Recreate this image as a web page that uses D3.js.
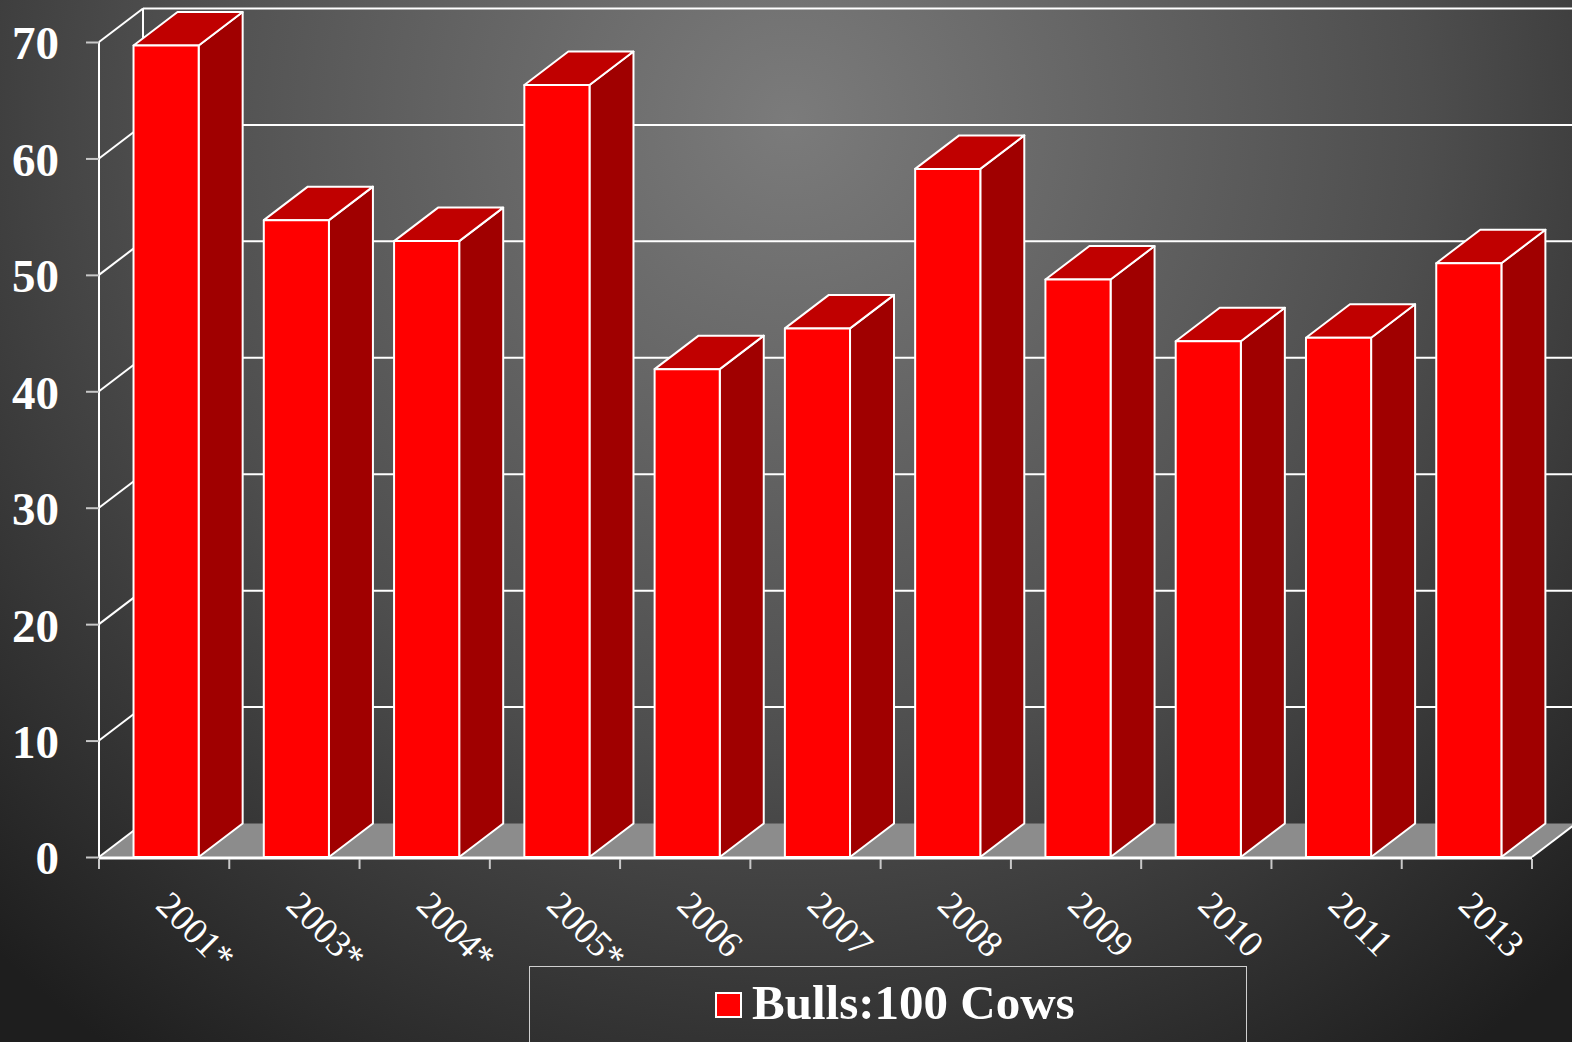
<!DOCTYPE html>
<html>
<head>
<meta charset="utf-8">
<script src="https://cdn.jsdelivr.net/npm/d3@7"></script>
<style>
html,body{margin:0;padding:0;background:#333;}
svg{display:block;}
</style>
</head>
<body>
<svg id="chart" width="1572" height="1042"></svg>
<script>
const categories = ["2001*","2003*","2004*","2005*","2006","2007","2008","2009","2010","2011","2013"];
const bullsPer100Cows = [69.7, 54.7, 52.9, 66.3, 41.9, 45.4, 59.1, 49.6, 44.3, 44.6, 51.0];
const yTicks = [0, 10, 20, 30, 40, 50, 60, 70];
const seriesName = "Bulls:100 Cows";

const W = 1572, H = 1042;
const svg = d3.select("#chart");
const defs = svg.append("defs");
const grad = defs.append("radialGradient").attr("id","bg")
  .attr("gradientUnits","userSpaceOnUse")
  .attr("cx",790).attr("cy",120).attr("r",1150);
grad.append("stop").attr("offset",0).attr("stop-color","#7b7b7b");
grad.append("stop").attr("offset",0.55).attr("stop-color","#4e4e4e");
grad.append("stop").attr("offset",1).attr("stop-color","#1e1e1e");
svg.append("rect").attr("width",W).attr("height",H).attr("fill","url(#bg)");

const x = d3.scaleBand().domain(categories).range([99, 1532]);
const y = d3.scaleLinear().domain([0, 70]).range([857, 42]);
const dx = 44, dy = -33.5;
const x0 = x.range()[0], x1 = x.range()[1];

// floor
svg.append("path")
  .attr("d", `M${x0},${y(0)}L${x1},${y(0)}L${x1+dx},${y(0)+dy}L${x0+dx},${y(0)+dy}Z`)
  .attr("fill","#8c8c8c");

// back wall gridlines
const grid = svg.append("g").attr("stroke","#ffffff").attr("stroke-width",2).attr("fill","none");
yTicks.filter(v => v > 0).forEach(v => {
  grid.append("line").attr("x1",x0+dx).attr("x2",W+10).attr("y1",y(v)+dy).attr("y2",y(v)+dy);
});
// left wall diagonals
yTicks.forEach(v => {
  grid.append("line").attr("x1",x0).attr("y1",y(v)).attr("x2",x0+dx).attr("y2",y(v)+dy);
});
// back wall left edge
grid.append("line").attr("x1",x0+dx).attr("x2",x0+dx).attr("y1",y(70)+dy).attr("y2",y(0)+dy);
// left wall front edge
grid.append("line").attr("x1",x0).attr("x2",x0).attr("y1",y(70)).attr("y2",y(0));
// floor right edge
grid.append("line").attr("x1",x1).attr("y1",y(0)).attr("x2",x1+dx).attr("y2",y(0)+dy);

// y axis
const yAxis = d3.axisLeft(y).tickValues(yTicks).tickSize(13).tickPadding(27).tickFormat(d3.format("d"));
const ya = svg.append("g").attr("transform",`translate(${x0},0)`).call(yAxis);
ya.select(".domain").remove();
ya.selectAll(".tick line").attr("stroke","#c8c8c8").attr("stroke-width",2);
ya.selectAll(".tick text")
  .attr("fill","#ffffff").attr("font-family","'Liberation Serif','Times New Roman',serif")
  .attr("font-weight","bold").attr("font-size",47).attr("dy","0.36em");

// bars
const bw = x.bandwidth() * 0.5;
const bo = x.bandwidth() * 0.265;
const bars = svg.append("g").attr("stroke","#ffffff").attr("stroke-width",2).attr("stroke-linejoin","round");
categories.forEach((c, i) => {
  const v = bullsPer100Cows[i];
  const L = x(c) + bo, R = L + bw, T = y(v), B = y(0);
  const g = bars.append("g");
  g.append("path").attr("d",`M${R},${T}L${R+dx},${T+dy}L${R+dx},${B+dy}L${R},${B}Z`).attr("fill","#a00000");
  g.append("path").attr("d",`M${L},${T}L${R},${T}L${R+dx},${T+dy}L${L+dx},${T+dy}Z`).attr("fill","#c00000");
  g.append("rect").attr("x",L).attr("y",T).attr("width",bw).attr("height",B-T).attr("fill","#ff0000");
});

// front axis line
svg.append("line").attr("x1",x0).attr("x2",x1).attr("y1",y(0)+1).attr("y2",y(0)+1)
  .attr("stroke","#ffffff").attr("stroke-width",3);

// x ticks at band boundaries
const bounds = categories.map(c => x(c)).concat([x1]);
svg.append("g").selectAll("line").data(bounds).join("line")
  .attr("x1",d=>d).attr("x2",d=>d).attr("y1",y(0)+2).attr("y2",y(0)+12)
  .attr("stroke","#c8c8c8").attr("stroke-width",2);

// x labels
const xAxis = d3.axisBottom(x).tickSize(0).tickPadding(0);
const xa = svg.append("g").attr("transform",`translate(0,${y(0)})`).call(xAxis);
xa.select(".domain").remove();
xa.selectAll(".tick text")
  .attr("y",0).attr("dy",0)
  .attr("text-anchor","start")
  .attr("transform","translate(-10,50) rotate(45)")
  .attr("fill","#ffffff").attr("font-family","'Liberation Serif','Times New Roman',serif")
  .attr("font-size",37);

// legend
const lg = svg.append("g");
lg.append("rect").attr("x",529.5).attr("y",966.5).attr("width",717).attr("height",90)
  .attr("fill","none").attr("stroke","#d0d0d0").attr("stroke-width",1);
lg.append("rect").attr("x",716).attr("y",993).attr("width",25).attr("height",24)
  .attr("fill","#ff0000").attr("stroke","#ffffff").attr("stroke-width",2);
lg.append("text").attr("x",752).attr("y",1019).text(seriesName)
  .attr("fill","#ffffff").attr("font-family","'Liberation Serif','Times New Roman',serif")
  .attr("font-weight","bold").attr("font-size",49);
</script>
</body>
</html>
